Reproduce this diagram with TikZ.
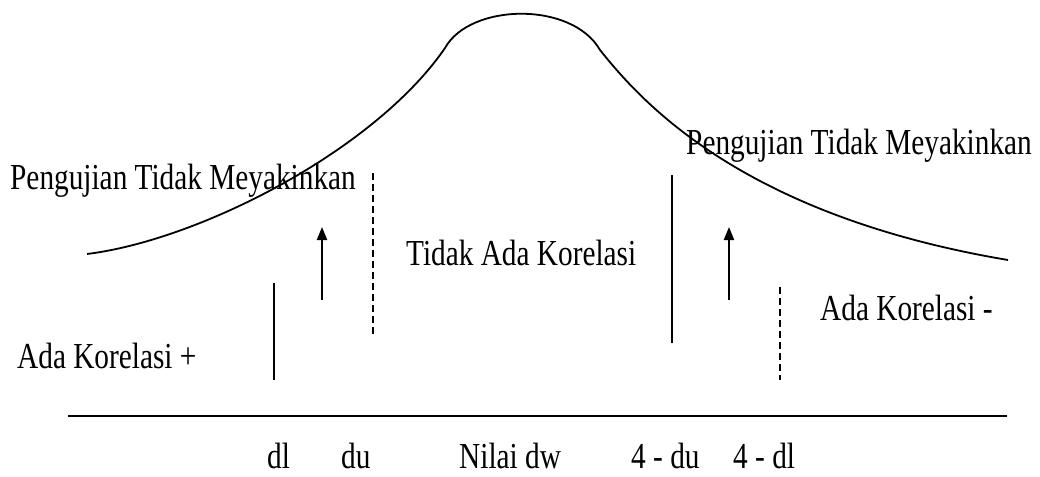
\documentclass[tikz,border=0pt]{standalone}
\usepackage{fontspec}
\setmainfont{Liberation Serif}
\usetikzlibrary{arrows.meta}
\newcommand{\tallt}[1]{\scalebox{1}[1.25]{#1}}
\tikzset{
  lbl/.style={anchor=base west, inner sep=0pt, font=\fontsize{29.3}{34}\selectfont},
  curveline/.style={line width=1.8pt},
  solidmark/.style={line width=1.6pt},
  dashmark/.style={line width=1.5pt, dash pattern=on 7pt off 4pt},
  uparrow/.style={line width=2.2pt, -{Triangle[length=13pt,width=10pt]}},
  axisline/.style={line width=2.2pt}
}
\begin{document}
\begin{tikzpicture}[x=1pt,y=-1pt]
\useasboundingbox (0,0) rectangle (1040,476);
% bell curve
\coordinate (cL) at (87,254);
\coordinate (cA) at (445,48);
\coordinate (cB) at (600,50);
\coordinate (cR) at (1008,260);
\draw[curveline] (cL) .. controls (200,240) and (375,150) .. (cA)
  .. controls (470,3) and (572,1) .. (cB)
  .. controls (640,100) and (740,215) .. (cR);
% axis
\coordinate (axL) at (68,416);
\coordinate (axR) at (1007,416);
\draw[axisline] (axL) -- (axR);
% vertical markers
\coordinate (dlT) at (274,283); \coordinate (dlB) at (274,380);
\draw[solidmark] (dlT) -- (dlB);
\coordinate (duT) at (373,173); \coordinate (duB) at (373,336);
\draw[dashmark] (duT) -- (duB);
\coordinate (fduT) at (672,175); \coordinate (fduB) at (672,343);
\draw[solidmark] (fduT) -- (fduB);
\coordinate (fdlT) at (780,287); \coordinate (fdlB) at (780,380);
\draw[dashmark] (fdlT) -- (fdlB);
% arrows
\coordinate (a1s) at (322,300); \coordinate (a1e) at (322,227);
\draw[uparrow] (a1s) -- (a1e);
\coordinate (a2s) at (729,300); \coordinate (a2e) at (729,227);
\draw[uparrow] (a2s) -- (a2e);
% labels
\node[lbl] (ptl) at (10,189) {\tallt{Pengujian Tidak Meyakinkan}};
\node[lbl] (ptr) at (686,154) {\tallt{Pengujian Tidak Meyakinkan}};
\node[lbl] (tak) at (406,265) {\tallt{Tidak Ada Korelasi}};
\node[lbl] (akp) at (17,368) {\tallt{Ada Korelasi +}};
\node[lbl] (akm) at (820,320) {\tallt{Ada Korelasi -}};
\node[lbl] (ldl) at (267,468) {\tallt{dl}};
\node[lbl] (ldu) at (341,468) {\tallt{du}};
\node[lbl] (ldw) at (459,468) {\tallt{Nilai dw}};
\node[lbl] (l4du) at (631,468) {\tallt{4 - du}};
\node[lbl] (l4dl) at (733,468) {\tallt{4 - dl}};
\end{tikzpicture}
\end{document}
